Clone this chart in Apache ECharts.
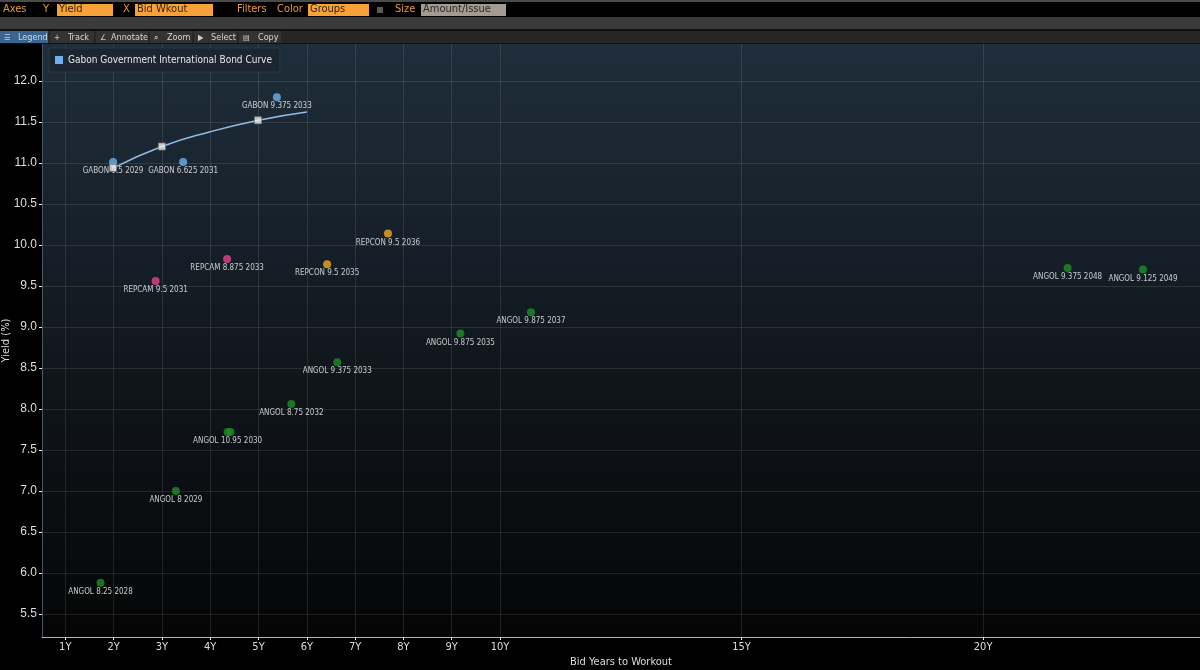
<!DOCTYPE html>
<html>
<head>
<meta charset="utf-8">
<title>Gabon / Angola / Cameroon / Congo bonds - yield vs bid years to workout</title>
<script src="https://cdn.jsdelivr.net/npm/echarts@6.0.0/dist/echarts.min.js"></script>
<style>
  html, body { margin: 0; padding: 0; background: #000; }
  #chart { width: 1200px; height: 670px; }
</style>
</head>
<body>
<div id="chart"></div>
<script>
// axis ticks
const xTicks = [1, 2, 3, 4, 5, 6, 7, 8, 9, 10, 15, 20];
const yTicks = [5.5, 6.0, 6.5, 7.0, 7.5, 8.0, 8.5, 9.0, 9.5, 10.0, 10.5, 11.0, 11.5, 12.0];

// Gabon bonds
const gabonNames = ['GABON 9.5 2029', 'GABON 6.625 2031', 'GABON 9.375 2033'];
const gabonX = [1.99, 3.44, 5.38];
const gabonY = [11.01, 11.01, 11.80];

// Gabon fitted curve
const curveName = 'Gabon Government International Bond Curve';
const curveX = [2, 3, 4, 5, 6];
const curveY = [10.94, 11.20, 11.38, 11.52, 11.62];
const curveNodeX = [1.99, 3.0, 4.99];
const curveNodeY = [10.94, 11.20, 11.52];

// Cameroon bonds
const repcamNames = ['REPCAM 9.5 2031', 'REPCAM 8.875 2033'];
const repcamX = [2.87, 4.35];
const repcamY = [9.56, 9.83];

// Congo bonds
const repconNames = ['REPCON 9.5 2035', 'REPCON 9.5 2036'];
const repconX = [6.42, 7.68];
const repconY = [9.765, 10.14];

// Angola bonds (second 2030 point has no label shown)
const angolNames = ['ANGOL 8.25 2028', 'ANGOL 8 2029', 'ANGOL 10.95 2030', '', 'ANGOL 8.75 2032',
  'ANGOL 9.375 2033', 'ANGOL 9.875 2035', 'ANGOL 9.875 2037', 'ANGOL 9.375 2048', 'ANGOL 9.125 2049'];
const angolX = [1.73, 3.29, 4.36, 4.42, 5.68, 6.63, 9.18, 10.64, 21.75, 23.31];
const angolY = [5.88, 7.00, 7.72, 7.72, 8.06, 8.57, 8.92, 9.18, 9.72, 9.70];

const narrow = "'DejaVu Sans Condensed', 'Liberation Sans Narrow', sans-serif";

function points(names, xs, ys) {
  return xs.map((x, i) => ({ name: names[i], value: [x, ys[i]] }));
}

function bondSeries(name, color, data) {
  return {
    name: name,
    type: 'scatter',
    symbolSize: 8,
    itemStyle: { color: color },
    data: data,
    z: 3,
    label: {
      show: true,
      position: 'bottom',
      distance: 1,
      formatter: p => p.name,
      color: '#f2f2f2',
      fontSize: 8,
      fontFamily: narrow
    }
  };
}

// header bar (Bloomberg style)
const orange = '#f7a238';
function hText(x, y, text, fill, size) {
  return { type: 'text', x: x, y: y, style: { text: text, fill: fill, font: (size || 11) + 'px ' + narrow, textVerticalAlign: 'middle' } };
}
function hRect(x, y, w, h, fill) {
  return { type: 'rect', shape: { x: x, y: y, width: w, height: h }, style: { fill: fill } };
}

const buttons = [
  { x: 0, w: 48, icon: '\u2630', text: 'Legend', tx: 18, on: true },
  { x: 50, w: 44, icon: '+', text: 'Track', tx: 68 },
  { x: 96, w: 52, icon: '\u2220', text: 'Annotate', tx: 111 },
  { x: 150, w: 42, icon: '\u2315', text: 'Zoom', tx: 167 },
  { x: 194, w: 43, icon: '\u25B6', text: 'Select', tx: 211 },
  { x: 239, w: 42, icon: '\u25A4', text: 'Copy', tx: 258 }
];

const header = [
  hRect(0, 0, 1200, 2, '#4a4a4a'),
  hRect(0, 2, 1200, 15, '#000'),
  hText(3, 9.5, 'Axes', '#e89a30'),
  hText(43, 9.5, 'Y', '#e89a30'),
  hRect(57, 4, 56, 12, orange),
  hText(59, 9.5, 'Yield', '#3a2408'),
  hText(123, 9.5, 'X', '#e89a30'),
  hRect(135, 4, 78, 12, orange),
  hText(137, 9.5, 'Bid Wkout', '#3a2408'),
  hText(237, 9.5, 'Filters', '#e89a30'),
  hText(277, 9.5, 'Color', '#e89a30'),
  hRect(308, 4, 61, 12, orange),
  hText(310, 9.5, 'Groups', '#3a2408'),
  hRect(377, 7, 6, 6, '#5a5a5a'),
  hText(395, 9.5, 'Size', '#e89a30'),
  hRect(421, 4, 85, 12, '#a39a90'),
  hText(423, 9.5, 'Amount/Issue', '#2a2a2a'),
  hRect(0, 17, 1200, 12, '#3a3a3a'),
  hRect(0, 29, 1200, 2, '#111'),
  hRect(0, 31, 1200, 12, '#262626'),
  hRect(0, 43, 1200, 1, '#111')
];
buttons.forEach(b => {
  header.push(hRect(b.x, 31, b.w, 12, b.on ? '#3a6590' : '#333333'));
  header.push(hText(b.x + 4, 37.5, b.icon, '#cfcfcf', 8));
  header.push(hText(b.tx, 37.5, b.text, '#d6d6d6', 9));
});

const chart = echarts.init(document.getElementById('chart'));
chart.setOption({
  backgroundColor: '#000',
  animation: false,
  graphic: header,
  grid: {
    left: 42, right: 0, top: 44, bottom: 33,
    outerBoundsMode: 'none',
    containLabel: false,
    show: true,
    borderWidth: 0,
    backgroundColor: {
      type: 'linear', x: 0, y: 0, x2: 0, y2: 1,
      colorStops: [
        { offset: 0, color: '#1f2e3b' },
        { offset: 0.55, color: '#10161c' },
        { offset: 1, color: '#050505' }
      ]
    }
  },
  legend: {
    data: [curveName],
    left: 49, top: 48,
    icon: 'rect',
    itemWidth: 8, itemHeight: 8,
    padding: [7, 8, 7, 6],
    backgroundColor: '#1b2631',
    borderColor: '#2b3946',
    borderWidth: 1,
    selectedMode: false,
    textStyle: { color: '#e6e6e6', fontSize: 10, fontFamily: narrow }
  },
  xAxis: {
    type: 'value',
    min: 0.518, max: 24.49,
    name: 'Bid Years to Workout',
    nameLocation: 'middle',
    nameGap: 20,
    nameMoveOverlap: false,
    nameTextStyle: { color: '#dcdcdc', fontSize: 11, fontFamily: narrow },
    axisLine: { lineStyle: { color: '#b4b4b4' } },
    axisTick: { customValues: xTicks, length: 3, lineStyle: { color: '#eee' } },
    axisLabel: { customValues: xTicks, formatter: v => v + 'Y', color: '#dcdcdc', fontSize: 11, margin: 5, fontFamily: narrow },
    splitLine: { show: true, lineStyle: { color: 'rgba(255,255,255,0.1)' } }
  },
  yAxis: {
    type: 'value',
    min: 5.22, max: 12.45,
    name: 'Yield (%)',
    nameLocation: 'middle',
    nameGap: 30,
    nameMoveOverlap: false,
    nameTextStyle: { color: '#dcdcdc', fontSize: 11, fontFamily: narrow },
    axisLine: { show: true, lineStyle: { color: '#4a5661' } },
    axisTick: { show: true, customValues: yTicks, length: 3, lineStyle: { color: '#eee' } },
    axisLabel: { customValues: yTicks, formatter: v => v.toFixed(1), color: '#dcdcdc', fontSize: 12, margin: 5 },
    splitLine: { show: true, lineStyle: { color: 'rgba(255,255,255,0.1)' } }
  },
  series: [
    bondSeries('Gabon', '#6fb1ee', points(gabonNames, gabonX, gabonY)),
    bondSeries('Cameroon', '#e4438c', points(repcamNames, repcamX, repcamY)),
    bondSeries('Congo', '#f2a81e', points(repconNames, repconX, repconY)),
    bondSeries('Angola', '#1d8f26', points(angolNames, angolX, angolY)),
    {
      name: curveName,
      type: 'line',
      smooth: true,
      showSymbol: false,
      itemStyle: { color: '#6fb1ee' },
      lineStyle: { color: '#8fbde8', width: 1.5 },
      data: curveX.map((x, i) => [x, curveY[i]]),
      z: 4
    },
    {
      name: 'curveNodes',
      type: 'scatter',
      symbol: 'rect',
      symbolSize: 7,
      itemStyle: { color: '#f0f0f0', borderColor: '#7a7a7a', borderWidth: 1 },
      data: curveNodeX.map((x, i) => [x, curveNodeY[i]]),
      z: 5
    }
  ]
});
</script>
</body>
</html>
